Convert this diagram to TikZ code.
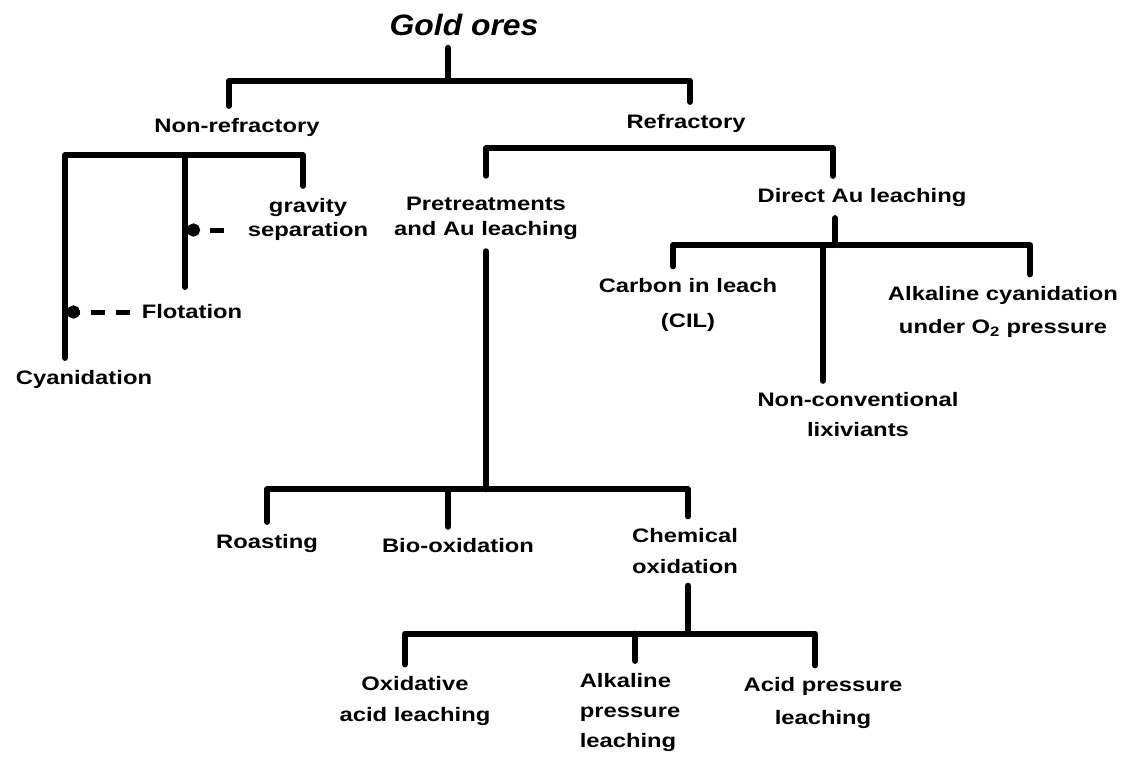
\documentclass[tikz,border=0pt]{standalone}
\usepackage{fontspec}
\setmainfont{Liberation Sans}[FakeStretch=1.22]
\newfontfamily\titlefont{Liberation Sans}[FakeStretch=1.08]
\usetikzlibrary{arrows.meta}

\begin{document}
\begin{tikzpicture}[x=1pt,y=-1pt,
    lbl/.style={font=\fontsize{19.5}{32}\selectfont\bfseries,align=center,
      inner sep=0pt,outer sep=12pt},
    link/.style={line width=6pt,line cap=round,line join=round},
    dotlink/.style={line width=5pt,dash pattern=on 14pt off 11pt,
      -{Circle[length=13pt]}}]
  \useasboundingbox (0,0) rectangle (1132,756);

  % labels
  \node[font=\titlefont\fontsize{29.5}{34}\selectfont\bfseries\itshape,
    inner sep=0pt,outer sep=12pt] (gold) at (464,25) {Gold ores};
  \node[lbl] (nonref)  at (237,127) {Non-refractory};
  \node[lbl] (ref)     at (686,123) {Refractory};
  \node[lbl] (grav)    at (308,219) {gravity\\[-8pt]separation};
  \node[lbl] (flot)    at (192,312) {Flotation};
  \node[lbl] (cyan)    at (84,379)  {Cyanidation};
  \node[lbl] (pret)    at (486,218) {Pretreatments\\[-7pt]and Au leaching};
  \node[lbl] (direct)  at (862,197) {Direct Au leaching};
  \node[lbl] (carbon)  at (688,305) {Carbon in leach\\[3pt](CIL)};
  \node[lbl] (alkcy)   at (1003,312) {Alkaline cyanidation\\[1pt]under O\textsubscript{2} pressure};
  \node[lbl] (nonconv) at (858,415) {Non-conventional\\[-2pt]lixiviants};
  \node[lbl] (roast)   at (267,543) {Roasting};
  \node[lbl] (bio)     at (458,546) {Bio-oxidation};
  \node[lbl] (chem)    at (685,551) {Chemical\\[-1pt]oxidation};
  \node[lbl] (oxid)    at (415,701) {Oxidative\\[-1pt]acid leaching};
  \node[lbl,align=left] (alkpr) at (630,712) {Alkaline\\[-2pt]pressure\\[-2pt]leaching};
  \node[lbl] (acidpr)  at (823,703) {Acid pressure\\[1pt]leaching};

  % gold ores
  \coordinate (j-gold) at ([xshift=-16pt,yshift=-33pt]gold.south);
  \draw[link] ([xshift=-16pt]gold.south) -- (j-gold);
  \draw[link] ([xshift=-8pt]nonref.north) |- (j-gold) -| ([xshift=4pt]ref.north);

  % non-refractory
  \coordinate (j-nonref) at ([yshift=-7pt]nonref.south);
  \coordinate (c-line) at ([xshift=-19pt]cyan.north);
  \coordinate (nr-mid) at (185,287);
  \draw[link] (c-line) |- (j-nonref) -| ([xshift=-5pt]grav.north);
  \draw[link] (nr-mid) -- (nr-mid |- j-nonref);
  \draw[dotlink,shorten >=2pt] (flot.west) -- (flot.west -| c-line);
  \draw[dotlink,shorten <=12pt,shorten >=2pt]
    ([yshift=-11pt]grav.west) -- ([yshift=-11pt]grav.west -| nr-mid);

  % refractory
  \coordinate (j-ref) at ([yshift=-4pt]ref.south);
  \draw[link] ([yshift=9pt]pret.north) |- (j-ref) -| ([xshift=-29pt]direct.north);

  % direct leaching
  \coordinate (j-direct) at ([xshift=-27pt,yshift=-27pt]direct.south);
  \draw[link] ([xshift=-27pt]direct.south) -- (j-direct);
  \draw[link] ([xshift=-15pt]carbon.north) |- (j-direct) -| ([xshift=27pt]alkcy.north);
  \draw[link] ([xshift=-35pt]nonconv.north) -- ([xshift=-35pt]nonconv.north |- j-direct);

  % pretreatments
  \coordinate (j-pret) at ([yshift=27pt]chem.north -| pret.south);
  \draw[link] (pret.south) -- (j-pret);
  \draw[link] (roast.north) |- (j-pret) -| ([xshift=3pt]chem.north);
  \draw[link] ([xshift=-10pt]bio.north) -- ([xshift=-10pt]bio.north |- j-pret);

  % chemical oxidation
  \coordinate (j-chem) at ([xshift=3pt,yshift=-48pt]chem.south);
  \draw[link] ([xshift=3pt]chem.south) -- (j-chem);
  \draw[link] ([xshift=-10pt]oxid.north) |- (j-chem) -| ([xshift=-8pt]acidpr.north);
  \draw[link] ([xshift=5pt]alkpr.north) -- ([xshift=5pt]alkpr.north |- j-chem);
\end{tikzpicture}
\end{document}
